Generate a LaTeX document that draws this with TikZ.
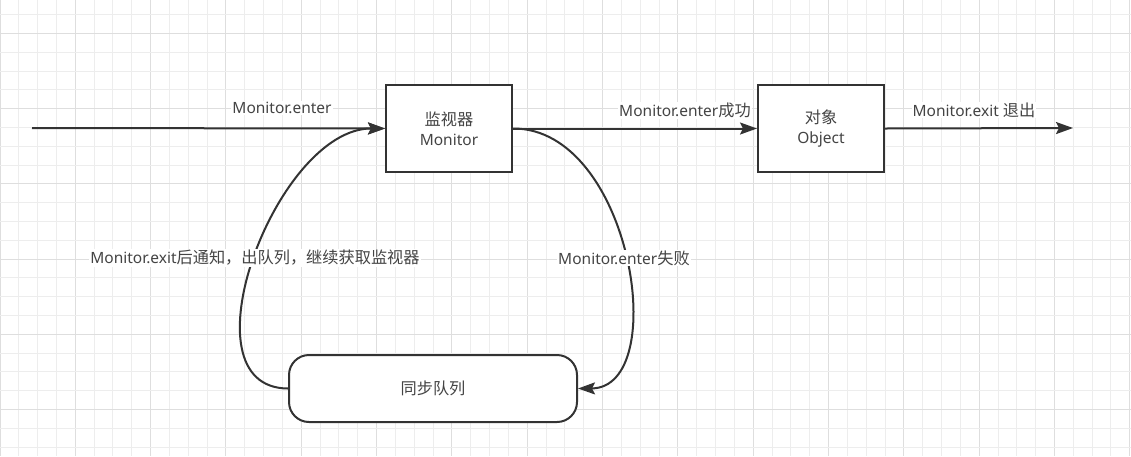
\documentclass[tikz,border=0pt]{standalone}
\usepackage{fontspec}
\setmainfont{Noto Sans}
\newfontfamily\cjkf{Noto Sans CJK SC}
\newcommand{\cjk}{\cjkf\fontsize{16.2}{20}\selectfont}
\usetikzlibrary{arrows.meta}
\definecolor{ink}{HTML}{333333}
\definecolor{txt}{HTML}{444444}
\definecolor{gminor}{HTML}{EDEDED}
\definecolor{gmajor}{HTML}{DEDEDE}
\begin{document}
\begin{tikzpicture}[x=1pt,y=-1pt,
  every node/.style={font=\fontsize{15.5}{20}\selectfont, text=txt},
  box/.style={draw=ink, line width=2pt, fill=white, minimum width=126pt, minimum height=87pt, align=center, inner sep=0pt},
  queue/.style={draw=ink, line width=2pt, fill=white, minimum width=288pt, minimum height=67pt, rounded corners=20pt, inner sep=0pt},
  conn/.style={draw=ink, line width=2pt, -{Stealth[length=17pt,width=12pt,inset=3pt]}},
  lbl/.style={fill=white, inner sep=1pt}]
\useasboundingbox (0,0) rectangle (1131,456);
\fill[white] (0,0) rectangle (1131,456);
% grid
\foreach \k in {0,...,60}{
  \pgfmathsetmacro{\gx}{18.83*\k}
  \pgfmathtruncatemacro{\gm}{mod(\k,4)}
  \ifnum\gm=0\relax
    \draw[gmajor, line width=1pt] (\gx,0) -- (\gx,456);
  \else
    \draw[gminor, line width=1pt] (\gx,0) -- (\gx,456);
  \fi
}
\foreach \j in {0,...,23}{
  \pgfmathsetmacro{\gy}{14.6+18.8*\j}
  \pgfmathtruncatemacro{\gm}{mod(\j+3,4)}
  \ifnum\gm=0\relax
    \draw[gmajor, line width=1pt] (0,\gy) -- (1131,\gy);
  \else
    \draw[gminor, line width=1pt] (0,\gy) -- (1131,\gy);
  \fi
}
% nodes
\coordinate (start) at (32,128);
\coordinate (exitpt) at (1073,128);
\node[box] (mon) at (449,128.5) {{\cjk 监视器}\\Monitor};
\node[box] (obj) at (821,128.5) {{\cjk 对象}\\Object};
\node[queue] (q) at (433,388.5) {\cjk 同步队列};
% connectors
\draw[conn] (start) -- (mon.west);
\draw[conn] (mon.east) -- (obj.west);
\draw[conn] (obj.east) -- (exitpt);
\draw[conn] (q.west) .. controls (179,388) and (276,128) .. (mon.west);
\draw[conn] (mon.east) .. controls (632,128) and (672,388) .. (q.east);
% labels
\node[lbl] (l1) at (282,108) {Monitor.enter};
\node[lbl] (l2) at (685,110) {Monitor.enter{\cjk 成功}};
\node[lbl] (l3) at (974,110) {Monitor.exit {\cjk 退出}};
\node[lbl] (l4) at (255,258) {Monitor.exit{\cjk 后通知，出队列，继续获取监视器}};
\node[lbl] (l5) at (624,258) {Monitor.enter{\cjk 失败}};
\end{tikzpicture}
\end{document}
